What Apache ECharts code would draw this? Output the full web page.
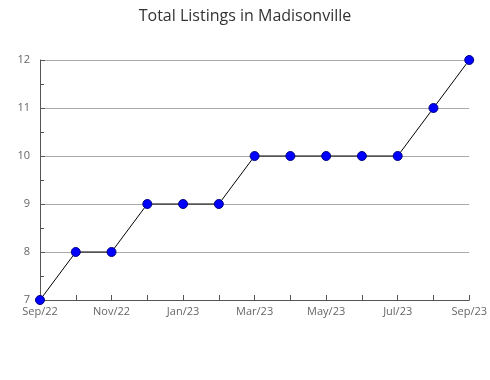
<!DOCTYPE html>
<html><head><meta charset="utf-8">
<script src="https://cdn.jsdelivr.net/npm/echarts@6/dist/echarts.min.js"></script>
<style>html,body{margin:0;padding:0;background:#fff}#c{width:490px;height:380px}</style>
</head><body><div id="c"></div>
<script>
const categories = ["Sep/22","Oct/22","Nov/22","Dec/22","Jan/23","Feb/23","Mar/23","Apr/23","May/23","Jun/23","Jul/23","Aug/23","Sep/23"];
const listings = [7,8,8,9,9,9,10,10,10,10,10,11,12];
const titleText = "Total Listings in Madisonville";
const chart = echarts.init(document.getElementById('c'));
chart.setOption({
  animation:false,
  title:{text:titleText,left:'center',top:3,textStyle:{fontFamily:'Open Sans',fontWeight:'normal',fontSize:16,color:'#333'}},
  grid:{left:40,right:19,top:60,bottom:80,containLabel:false},
  xAxis:{type:'category',data:categories,boundaryGap:false,
    axisLine:{lineStyle:{color:'#555',width:1}},
    axisTick:{inside:true,length:5,interval:0,lineStyle:{color:'#555'}},
    axisLabel:{interval:1,color:'#666',fontFamily:'Open Sans',fontSize:11,margin:6},
    splitLine:{show:false}},
  yAxis:{type:'value',min:7,max:12,interval:1,
    axisLine:{show:true,lineStyle:{color:'#555',width:1}},
    axisTick:{show:true,inside:true,length:5,lineStyle:{color:'#555'}},
    minorTick:{show:true,splitNumber:2,length:4,lineStyle:{color:'#555'}},
    axisLabel:{color:'#666',fontFamily:'Open Sans',fontSize:11,margin:10},
    splitLine:{show:true,lineStyle:{color:'#aaa',width:1}}},
  series:[{type:'line',data:listings,symbol:'circle',symbolSize:9,
    lineStyle:{color:'#000',width:1},
    itemStyle:{color:'#0000ff',borderColor:'#000080',borderWidth:1}}]
});
</script></body></html>
